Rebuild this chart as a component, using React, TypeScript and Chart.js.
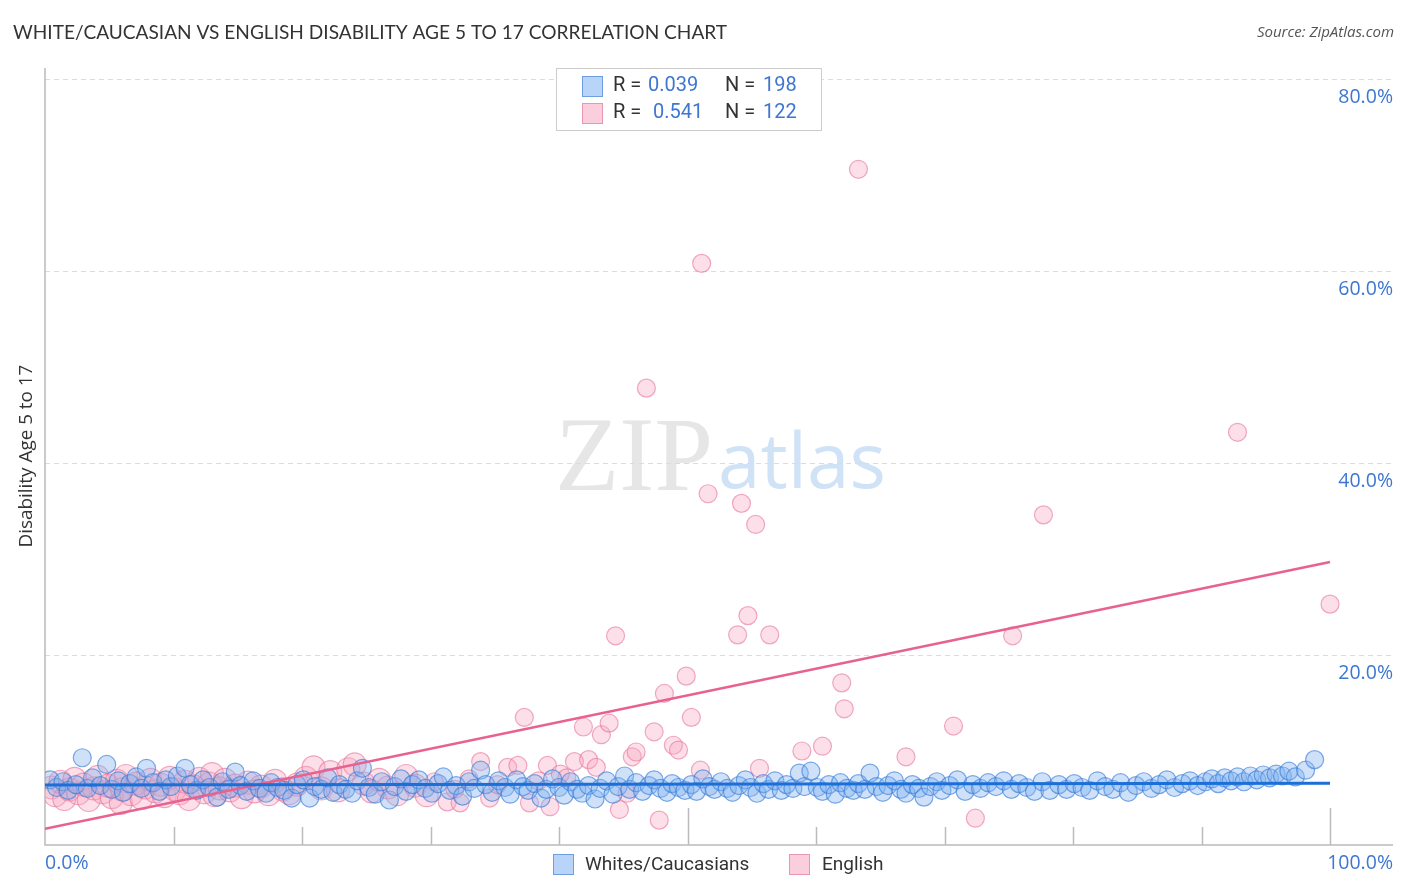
import React, { useEffect, useRef } from "react";
import { Chart, registerables } from "chart.js";

Chart.register(...registerables);

const TITLE = "WHITE/CAUCASIAN VS ENGLISH DISABILITY AGE 5 TO 17 CORRELATION CHART";
const SOURCE = "Source: ZipAtlas.com";
const Y_TITLE = "Disability Age 5 to 17";
const SERIES_NAMES = ["Whites/Caucasians", "English"];
const R_VALUES = ["0.039", "0.541"];
const N_VALUES = ["198", "122"];
const Y_TICKS = [20, 40, 60, 80];
const X_TICKS = [10, 20, 30, 40, 50, 60, 70, 80, 90, 100];
const X_TICK_LABELS = ["0.0%", "100.0%"];

const whiteX = [
  0.4, 0.9, 1.4, 1.8, 2.4, 2.9, 3.3, 3.7, 4.3, 4.8, 5.2, 5.7, 6.1, 6.6, 7.1, 7.5, 7.9, 8.4, 8.9, 9.4, 9.8,
  10.3, 10.9, 11.3, 11.8, 12.3, 12.8, 13.4, 13.8, 14.3, 14.8, 15.2, 15.7, 16.2, 16.7, 17.2, 17.6, 18.1, 18.6, 19.2, 19.6,
  20.1, 20.6, 21.0, 21.5, 22.0, 22.4, 22.9, 23.4, 23.9, 24.3, 24.7, 25.2, 25.7, 26.2, 26.8, 27.2, 27.7, 28.1, 28.6, 29.1, 29.6,
  30.1, 30.6, 31.0, 31.5, 32.0, 32.5, 33.0, 33.4, 33.9, 34.3, 34.8, 35.3, 35.8, 36.2, 36.7, 37.2, 37.6, 38.1, 38.6, 39.0, 39.5,
  40.0, 40.4, 40.9, 41.4, 41.8, 42.3, 42.8, 43.2, 43.7, 44.2, 44.6, 45.1, 45.5, 46.0, 46.5, 47.0, 47.4, 47.9, 48.4, 48.8, 49.3, 49.8,
  50.3, 50.7, 51.2, 51.7, 52.1, 52.6, 53.1, 53.5, 54.0, 54.5, 54.9, 55.4, 55.9, 56.3, 56.8, 57.3, 57.7, 58.2, 58.7, 59.1, 59.6,
  60.1, 60.5, 61.0, 61.5, 61.9, 62.4, 62.9, 63.3, 63.8, 64.2, 64.7, 65.2, 65.6, 66.1, 66.6, 67.0, 67.5, 68.0, 68.4, 68.9, 69.4, 69.8,
  70.4, 71.0, 71.6, 72.2, 72.8, 73.4, 74.0, 74.6, 75.2, 75.8, 76.4, 77.0, 77.6, 78.2, 78.9, 79.5,
  80.1, 80.7, 81.3, 81.9, 82.5, 83.1, 83.7, 84.3, 84.9, 85.5, 86.1, 86.7, 87.3, 87.9, 88.5, 89.1, 89.7,
  90.3, 90.8, 91.3, 91.8, 92.3, 92.8, 93.3, 93.8, 94.3, 94.8, 95.3, 95.8, 96.3, 96.8, 97.3, 98.1, 98.8,
];
const whiteY = [
  7.0, 6.2, 6.8, 5.9, 6.5, 9.3, 6.1, 7.2, 6.4, 8.6, 6.0, 6.9, 5.7, 6.6, 7.3, 6.1, 8.2, 6.7, 5.8, 7.0, 6.3,
  7.4, 8.2, 6.5, 5.9, 7.0, 6.2, 5.2, 6.8, 6.0, 7.8, 6.4, 5.8, 6.9, 6.1, 5.6, 6.7, 6.2, 5.9, 5.1, 6.5,
  7.0, 5.1, 6.3, 6.0, 7.2, 5.7, 6.5, 6.0, 5.6, 6.9, 8.2, 6.2, 5.5, 6.8, 4.9, 6.3, 7.1, 5.8, 6.5, 7.0, 6.1,
  5.6, 6.6, 7.3, 5.9, 6.4, 5.3, 6.8, 6.1, 8.0, 6.5, 5.7, 6.9, 6.2, 5.5, 7.0, 6.3, 5.9, 6.6, 5.1, 6.0, 7.1,
  6.2, 5.4, 6.8, 6.0, 5.6, 6.4, 5.0, 6.1, 6.9, 5.5, 6.3, 7.4, 6.0, 6.7, 5.8, 6.4, 7.0, 6.1, 5.7, 6.6, 6.2, 5.9,
  6.5, 5.8, 7.1, 6.3, 6.0, 6.8, 6.1, 5.7, 6.4, 7.0, 6.2, 5.6, 6.6, 6.0, 6.9, 5.9, 6.5, 6.1, 7.7, 6.3, 7.9,
  6.2, 5.8, 6.5, 5.5, 6.7, 6.1, 5.9, 6.6, 6.0, 7.7, 6.3, 5.7, 6.4, 6.9, 6.0, 5.6, 6.5, 6.1, 5.2, 6.3, 6.8, 5.9,
  6.4, 7.0, 5.8, 6.5, 6.1, 6.7, 6.3, 6.9, 6.0, 6.6, 6.2, 5.8, 6.8, 5.9, 6.5, 6.0,
  6.6, 6.2, 5.9, 6.9, 6.3, 6.0, 6.7, 5.7, 6.4, 6.8, 6.1, 6.5, 7.0, 6.2, 6.6, 6.9, 6.4,
  6.8, 7.1, 6.6, 7.2, 6.9, 7.3, 6.8, 7.4, 7.0, 7.5, 7.2, 7.6, 7.4, 7.9, 7.3, 8.0, 9.1,
];

const englishX = [
  0.5, 0.8, 1.2, 1.5, 1.9, 2.3, 2.6, 3.0, 3.4, 3.8, 4.1, 4.5, 4.9, 5.2, 5.6, 5.9, 6.0, 6.3, 6.7, 7.1, 7.5,
  7.8, 8.2, 8.6, 9.0, 9.3, 9.7, 10.1, 10.5, 10.9, 11.2, 11.6, 12.0, 12.4, 12.8, 13.0, 13.2, 13.6, 14.0, 14.4, 14.8, 15.3,
  15.8, 16.3, 16.8, 17.4, 17.9, 18.5, 19.0, 19.6,
  20.3, 20.9, 21.5, 22.2, 22.8, 23.6, 24.1, 24.8, 25.4, 26.0, 26.7, 27.4, 28.1, 28.8, 29.7, 30.3, 31.3, 31.9, 32.3, 33.0,
  33.9, 34.6, 35.2, 36.0, 36.8, 37.3, 37.7, 38.4, 39.1, 39.3, 40.1, 40.6, 41.2, 41.9, 42.3, 42.9, 43.3, 43.9, 44.4, 44.7,
  45.3, 45.7, 46.0, 46.8, 47.4, 47.8, 48.2, 48.9, 49.3, 49.9, 50.3, 51.0, 51.1, 51.6, 53.9, 54.2, 54.7, 55.3, 55.6, 56.4,
  58.9, 60.5, 62.0, 62.2, 63.3, 67.0, 70.7, 72.4, 75.3, 77.7, 92.8, 100.0,
];
const englishY = [
  6.2, 5.4, 6.8, 5.0, 6.0, 7.1, 5.6, 6.5, 4.9, 6.1, 7.3, 5.7, 6.4, 5.2, 6.9, 4.6, 6.0, 7.4, 5.5, 6.6, 5.1,
  6.2, 7.0, 5.8, 6.5, 5.3, 7.2, 6.0, 5.6, 6.8, 5.0, 6.3, 7.1, 5.7, 6.6, 7.6, 5.4, 6.1, 7.0, 5.9, 6.4, 5.2,
  6.7, 5.8, 6.3, 5.5, 6.9, 6.0, 5.6, 6.5,
  7.2, 8.3, 6.1, 7.8, 5.9, 8.1, 8.6, 6.6, 5.8, 7.0, 6.2, 5.5, 7.4, 6.4, 5.4, 6.8, 4.7, 6.0, 4.6, 7.1,
  8.9, 5.1, 6.5, 8.3, 8.5, 13.5, 4.6, 6.9, 8.5, 4.2, 7.6, 7.2, 8.9, 12.5, 9.1, 8.3, 11.7, 12.9, 22.0, 3.9,
  5.6, 9.4, 9.9, 47.8, 12.0, 2.8, 16.0, 10.6, 10.1, 17.8, 13.5, 8.0, 60.8, 36.8, 22.1, 35.8, 24.1, 33.6, 8.2, 22.1,
  10.0, 10.5, 17.1, 14.4, 70.6, 9.4, 12.6, 3.0, 22.0, 34.6, 43.2, 25.3,
];

const whiteTrend = [6.45, 6.65];
const englishTrend = [1.9, 29.7];
const TREND_X = [0, 100];

const BLUE_TEXT = "#3e76d2";
const DARK_TEXT = "#333333";

function fitFont(ctx: CanvasRenderingContext2D, text: string, family: string, target: number, style = "") {
  ctx.font = `${style} 20px ${family}`;
  const w = ctx.measureText(text).width;
  const size = (20 * target) / w;
  return `${style} ${size.toFixed(2)}px ${family}`;
}

const decorPlugin = {
  id: "decor",
  beforeDatasetsDraw(chart: any) {
    const { ctx, chartArea, scales } = chart;
    const xs = scales.x;
    const ys = scales.y;
    ctx.save();
    ctx.textBaseline = "alphabetic";
    ctx.textAlign = "left";
    ctx.font = fitFont(ctx, "ZIP", "'Liberation Serif', 'DejaVu Serif', serif", 158);
    ctx.fillStyle = "rgba(200,200,200,0.45)";
    ctx.fillText("ZIP", 555, 490);
    ctx.font = fitFont(ctx, "atlas", "'Open Sans', 'DejaVu Sans', sans-serif", 168);
    ctx.fillStyle = "rgba(150,190,235,0.45)";
    ctx.fillText("atlas", 718, 488);
    ctx.strokeStyle = "#dcdcdc";
    ctx.lineWidth = 1;
    ctx.setLineDash([5, 4]);
    for (const t of Y_TICKS) {
      const y = Math.round(ys.getPixelForValue(t)) + 0.5;
      ctx.beginPath();
      ctx.moveTo(chartArea.left, y);
      ctx.lineTo(chartArea.right, y);
      ctx.stroke();
    }
    ctx.setLineDash([]);
    ctx.strokeStyle = "#bbbbbb";
    ctx.lineWidth = 1.5;
    ctx.beginPath();
    ctx.moveTo(chartArea.left, chartArea.top);
    ctx.lineTo(chartArea.left, chartArea.bottom);
    ctx.lineTo(chartArea.right, chartArea.bottom);
    ctx.stroke();
    for (const t of X_TICKS) {
      const x = Math.round(xs.getPixelForValue(t)) + 0.5;
      const len = t % 50 === 0 ? 37 : 18;
      ctx.beginPath();
      ctx.moveTo(x, chartArea.bottom);
      ctx.lineTo(x, chartArea.bottom - len);
      ctx.stroke();
    }
    ctx.restore();
  },
  afterDraw(chart: any) {
    const { ctx, chartArea, scales } = chart;
    const xs = scales.x;
    const ys = scales.y;
    ctx.save();
    ctx.fillStyle = BLUE_TEXT;
    ctx.font = "19.5px 'Open Sans', 'DejaVu Sans', sans-serif";
    ctx.textBaseline = "middle";
    ctx.textAlign = "right";
    for (const t of Y_TICKS) {
      ctx.fillText(`${t.toFixed(1)}%`, chartArea.right, ys.getPixelForValue(t) + 18);
    }
    ctx.textAlign = "left";
    ctx.fillText(X_TICK_LABELS[0], xs.getPixelForValue(0), 863);
    ctx.textAlign = "right";
    ctx.fillText(X_TICK_LABELS[1], chartArea.right, 863);

    ctx.fillStyle = DARK_TEXT;
    ctx.textAlign = "left";
    ctx.font = fitFont(ctx, TITLE, "Lato, 'Open Sans', sans-serif", 714);
    ctx.fillText(TITLE, 13, 33);
    ctx.fillStyle = "#555555";
    ctx.textAlign = "right";
    ctx.font = "italic 15px 'Open Sans', 'DejaVu Sans', sans-serif";
    ctx.fillText(SOURCE, 1394, 33);

    ctx.save();
    ctx.translate(27, 456);
    ctx.rotate(-Math.PI / 2);
    ctx.textAlign = "center";
    ctx.fillStyle = DARK_TEXT;
    ctx.font = fitFont(ctx, Y_TITLE, "'Open Sans', 'DejaVu Sans', sans-serif", 183);
    ctx.fillText(Y_TITLE, 0, 0);
    ctx.restore();

    ctx.fillStyle = "#ffffff";
    ctx.strokeStyle = "#cccccc";
    ctx.lineWidth = 1;
    ctx.fillRect(556, 68, 265, 62);
    ctx.strokeRect(556.5, 68.5, 265, 62);
    const swFill = ["rgba(160,198,245,0.75)", "rgba(250,190,210,0.75)"];
    const swStroke = ["#6d9fe0", "#e897b3"];
    const rowsY = [86, 113];
    const rX = [648, 653];
    ctx.font = "20px Roboto, 'Open Sans', sans-serif";
    ctx.textAlign = "left";
    for (let i = 0; i < 2; i++) {
      const cy = rowsY[i];
      ctx.fillStyle = swFill[i];
      ctx.fillRect(582, cy - 10, 21, 21);
      ctx.strokeStyle = swStroke[i];
      ctx.strokeRect(582.5, cy - 9.5, 20, 20);
      ctx.fillStyle = DARK_TEXT;
      ctx.fillText("R =", 613, cy);
      ctx.fillStyle = BLUE_TEXT;
      ctx.fillText(R_VALUES[i], rX[i], cy);
      ctx.fillStyle = DARK_TEXT;
      ctx.fillText("N =", 725, cy);
      ctx.fillStyle = BLUE_TEXT;
      ctx.fillText(N_VALUES[i], 763, cy);
    }

    const lx = [553, 789];
    const tx = [585, 822];
    ctx.font = "19px Roboto, 'Open Sans', sans-serif";
    for (let i = 0; i < 2; i++) {
      ctx.fillStyle = swFill[i];
      ctx.fillRect(lx[i], 854, 21, 21);
      ctx.strokeStyle = swStroke[i];
      ctx.strokeRect(lx[i] + 0.5, 854.5, 20, 20);
      ctx.fillStyle = DARK_TEXT;
      ctx.fillText(SERIES_NAMES[i], tx[i], 865);
    }
    ctx.restore();
  },
};

export default function App() {
  const ref = useRef<HTMLCanvasElement | null>(null);
  useEffect(() => {
    document.body.style.margin = "0";
    const canvas = ref.current;
    if (!canvas) return;
    const whitePts = whiteX.map((x, i) => ({ x, y: whiteY[i] }));
    const englishPts = englishX.map((x, i) => ({ x, y: englishY[i] }));
    const chart = new Chart(canvas, {
      type: "scatter",
      data: {
        datasets: [
          {
            label: SERIES_NAMES[1],
            data: englishPts,
            backgroundColor: "rgba(246,165,192,0.36)",
            borderColor: "rgba(230,115,155,0.6)",
            borderWidth: 1.2,
            pointRadius: (c: any) => (c.raw && c.raw.x < 30 && c.raw.y < 10 ? 11.5 : 9),
            order: 3,
          },
          {
            label: SERIES_NAMES[0],
            data: whitePts,
            backgroundColor: "rgba(125,175,238,0.38)",
            borderColor: "rgba(50,120,215,0.62)",
            borderWidth: 1.2,
            pointRadius: 9,
            order: 2,
          },
          {
            type: "line",
            label: "English trend",
            data: TREND_X.map((x, i) => ({ x, y: englishTrend[i] })),
            borderColor: "#e8628f",
            borderWidth: 2.5,
            pointRadius: 0,
            fill: false,
            order: 1,
          } as any,
          {
            type: "line",
            label: "White trend",
            data: TREND_X.map((x, i) => ({ x, y: whiteTrend[i] })),
            borderColor: "#1d6fd8",
            borderWidth: 3,
            pointRadius: 0,
            fill: false,
            order: 0,
          } as any,
        ],
      },
      options: {
        responsive: false,
        animation: false,
        devicePixelRatio: 1,
        layout: { padding: { left: 45, right: 13, top: 68, bottom: 47 } },
        plugins: { legend: { display: false }, tooltip: { enabled: false }, title: { display: false } },
        scales: {
          x: { type: "linear", min: 0, max: 104.9, display: false },
          y: { type: "linear", min: 0.21, max: 81.15, display: false },
        },
      },
      plugins: [decorPlugin],
    });
    return () => chart.destroy();
  }, []);
  return <canvas ref={ref} width={1406} height={892} style={{ display: "block" }} />;
}
